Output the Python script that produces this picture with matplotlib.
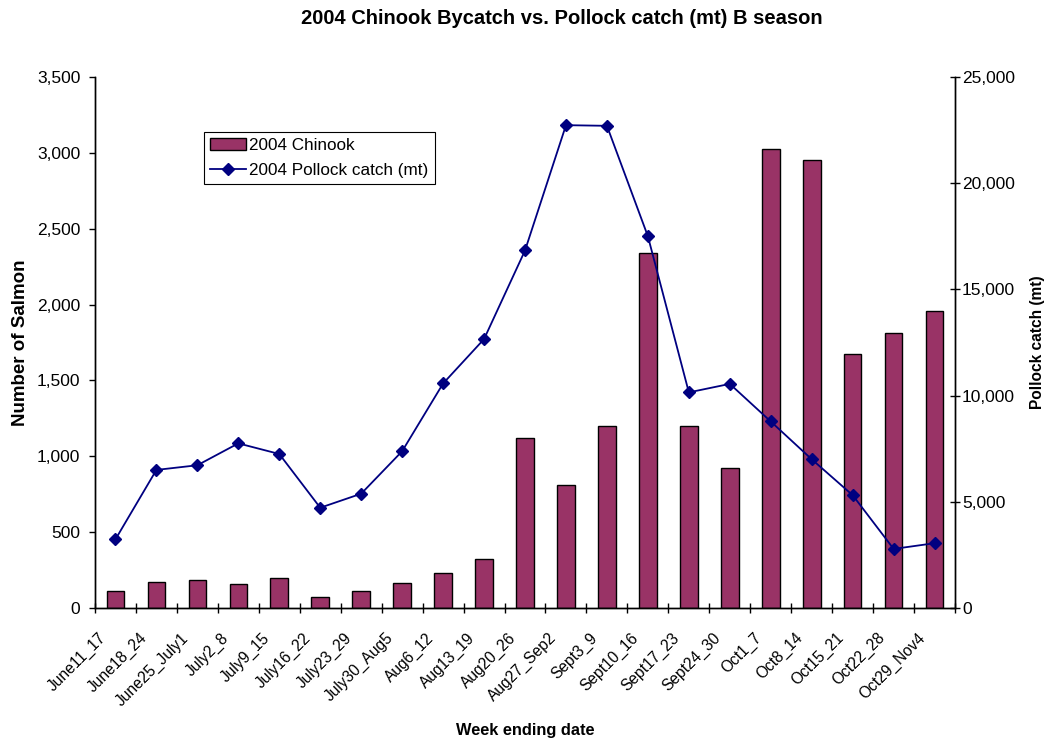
import matplotlib
matplotlib.use("Agg")
import matplotlib.pyplot as plt
from matplotlib.ticker import FuncFormatter, FixedLocator
from matplotlib.transforms import ScaledTranslation
import numpy as np

plt.rcParams['font.family'] = ['Liberation Sans', 'DejaVu Sans']

weeks = ["June11_17", "June18_24", "June25_July1", "July2_8", "July9_15",
         "July16_22", "July23_29", "July30_Aug5", "Aug6_12", "Aug13_19",
         "Aug20_26", "Aug27_Sep2", "Sept3_9", "Sept10_16", "Sept17_23",
         "Sept24_30", "Oct1_7", "Oct8_14", "Oct15_21", "Oct22_28", "Oct29_Nov4"]

chinook = [115, 170, 185, 160, 200, 75, 110, 167, 230, 325,
           1120, 810, 1200, 2340, 1200, 920, 3025, 2950, 1675, 1810, 1955]

pollock = [3230, 6500, 6720, 7750, 7250, 4720, 5380, 7380, 10570, 12660,
           16830, 22730, 22700, 17500, 10150, 10550, 8780, 7000, 5310, 2780, 3050]

left_ticks = [0, 500, 1000, 1500, 2000, 2500, 3000, 3500]
right_ticks = [0, 5000, 10000, 15000, 20000, 25000]

fig = plt.figure(figsize=(10.47, 7.4), dpi=100)
ax = fig.add_axes([0.0907, 0.1784, 0.8215, 0.7176])
ax2 = ax.twinx()

x = np.arange(len(weeks))
bars = ax.bar(x, chinook, width=0.43, color='#993366', edgecolor='black',
              linewidth=1.0, label='2004 Chinook', zorder=2)
line, = ax2.plot(x, pollock, color='#000080', linewidth=1.3, marker='D',
                 markersize=6, markerfacecolor='#000080',
                 markeredgecolor='#000080', label='2004 Pollock catch (mt)')

ax.set_xlim(-0.5, len(weeks) - 0.5)
ax.set_ylim(0, 3500)
ax2.set_ylim(0, 25000)

fmt = FuncFormatter(lambda v, p: f"{int(v):,}")
ax.yaxis.set_major_locator(FixedLocator(left_ticks))
ax.yaxis.set_major_formatter(fmt)
ax2.yaxis.set_major_locator(FixedLocator(right_ticks))
ax2.yaxis.set_major_formatter(fmt)

# Category labels at bar centres, tick marks on the category boundaries
ax.set_xticks(x)
ax.set_xticklabels(weeks, rotation=45, ha='right', rotation_mode='anchor',
                   fontsize=11.2)
ax.tick_params(axis='x', which='major', length=0, pad=16)
shift = ScaledTranslation(-0.17, 0, fig.dpi_scale_trans)
for lbl in ax.get_xticklabels():
    lbl.set_transform(lbl.get_transform() + shift)
ax.set_xticks(np.arange(-0.5, len(weeks), 1.0), minor=True)
ax.tick_params(axis='x', which='minor', length=7, direction='inout',
               width=1.0, color='black')

ax.tick_params(axis='y', length=4.5, direction='out', labelsize=12.5,
               width=1.0, pad=6)
ax2.tick_params(axis='y', length=7, direction='inout', labelsize=12.5,
                width=1.0, pad=1.5)

for a in (ax, ax2):
    a.spines['top'].set_visible(False)
    for s in ('left', 'right', 'bottom'):
        a.spines[s].set_linewidth(1.0)
        a.spines[s].set_color('black')

ax.set_xlabel('Week ending date', fontsize=11.8, fontweight='bold', labelpad=10)
ax.set_ylabel('Number of Salmon', fontsize=13.5, fontweight='bold', labelpad=6)
ax2.set_ylabel('Pollock catch (mt)', fontsize=11.2, fontweight='bold', labelpad=11)

fig.suptitle('2004 Chinook Bycatch vs. Pollock catch (mt) B season',
             x=0.537, fontsize=14.5, fontweight='bold', y=0.988)

leg = ax.legend([bars, line], ['2004 Chinook', '2004 Pollock catch (mt)'],
                loc='upper left', bbox_to_anchor=(0.127, 0.897),
                fontsize=12.3, frameon=True, fancybox=False, edgecolor='black',
                framealpha=1, borderpad=0.35, handlelength=2.1,
                handletextpad=0.2, labelspacing=0.6, borderaxespad=0)
leg.get_frame().set_linewidth(0.8)
leg.set_zorder(5)

fig.savefig('out.png', dpi=100)
